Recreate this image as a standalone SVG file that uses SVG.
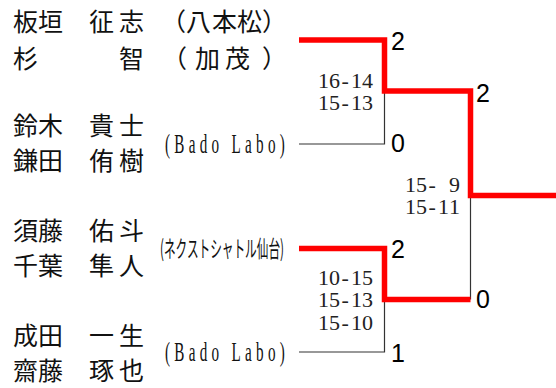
<svg xmlns="http://www.w3.org/2000/svg" width="556" height="388" viewBox="0 0 556 388">
<style>
.nm{font-family:"Noto Sans CJK JP","Noto Sans CJK SC",sans-serif;font-size:25px;fill:#111}
.club{font-family:"Liberation Serif",serif;font-size:27px;fill:#111}
.clubj{font-family:"Noto Sans CJK JP","Noto Sans CJK SC",sans-serif;font-size:23px;fill:#111}
.sc{font-family:"Liberation Serif",serif;font-size:22px;fill:#222}
.win{font-family:"Liberation Sans",Arial,sans-serif;font-size:25px;fill:#000}
.red{fill:none;stroke:#ff0000;stroke-width:5.5;stroke-linejoin:miter}
.blk{fill:none;stroke:#333;stroke-width:1.2}
</style>
<rect width="556" height="388" fill="#fff"/>
<g id="connectors">
<path class="blk" d="M299,144 H384.5 V91"/>
<path class="blk" d="M299,352 H384.5 V299.5"/>
<path class="blk" d="M470.5,195.5 V299.5"/>
<path class="red" d="M299,40 H384.5 V91 H470.5 V195.5 H556"/>
<path class="red" d="M299,248.5 H384.5 V299.5 H470.5"/>
</g>
<g id="team1">
<text class="nm" x="13 38" y="31">板垣</text>
<text class="nm" x="89 119" y="31">征志</text>
<text class="nm" x="161 186 212 237 262" y="31">（八本松）</text>
<text class="nm" x="13" y="68">杉</text>
<text class="nm" x="119" y="68">智</text>
<text class="nm" x="162 195 225 262" y="68">（加茂）</text>
</g>
<g id="team2">
<text class="nm" x="13 38" y="135">鈴木</text>
<text class="nm" x="89 119" y="135">貴士</text>
<text class="nm" x="13 38" y="170">鎌田</text>
<text class="nm" x="89 119" y="170">侑樹</text>
<text class="club" transform="translate(165,153) scale(0.56,1)" textLength="214" lengthAdjust="spacing">(Bado Labo)</text>
</g>
<g id="team3">
<text class="nm" x="13 38" y="240">須藤</text>
<text class="nm" x="89 119" y="240">佑斗</text>
<text class="nm" x="13 38" y="275">千葉</text>
<text class="nm" x="89 119" y="275">隼人</text>
<text class="clubj" x="160" y="257" textLength="124" lengthAdjust="spacingAndGlyphs">(ネクストシャトル仙台)</text>
</g>
<g id="team4">
<text class="nm" x="13 38" y="345">成田</text>
<text class="nm" x="89 119" y="345">一生</text>
<text class="nm" x="13 38" y="380">齋藤</text>
<text class="nm" x="89 119" y="380">琢也</text>
<text class="club" transform="translate(165,361) scale(0.56,1)" textLength="214" lengthAdjust="spacing">(Bado Labo)</text>
</g>
<g id="match1">
<text class="win" x="391" y="50">2</text>
<text class="win" x="391" y="152">0</text>
<text class="sc" x="318 329 341.5 351 362" y="88">16-14</text>
<text class="sc" x="318 329 341.5 351 362" y="110">15-13</text>
</g>
<g id="match2">
<text class="win" x="391" y="258">2</text>
<text class="win" x="391" y="362">1</text>
<text class="sc" x="318 329 341.5 351 362" y="285">10-15</text>
<text class="sc" x="318 329 341.5 351 362" y="307">15-13</text>
<text class="sc" x="318 329 341.5 351 362" y="330">15-10</text>
</g>
<g id="final">
<text class="win" x="476" y="102">2</text>
<text class="win" x="476" y="308">0</text>
<text class="sc" x="405 416 428.5 438 449" y="192">15- 9</text>
<text class="sc" x="405 416 428.5 438 449" y="214">15-11</text>
</g>
</svg>
